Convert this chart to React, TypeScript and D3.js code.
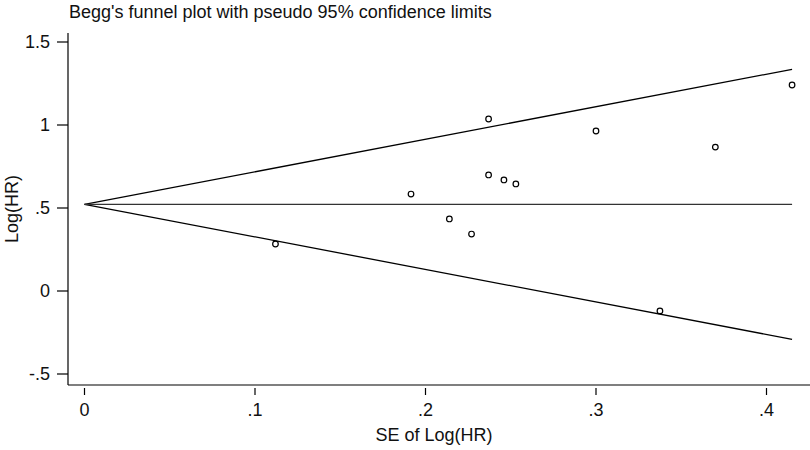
import React from "react";
import * as d3 from "d3";

// study-level SE and log hazard ratio
const seValues = [0.112, 0.1915, 0.214, 0.227, 0.237, 0.237, 0.246, 0.253, 0.3, 0.3375, 0.37, 0.415];
const logHR = [0.283, 0.584, 0.434, 0.343, 1.036, 0.699, 0.669, 0.645, 0.964, -0.12, 0.867, 1.241];
const pooled = 0.522;
const xTicks = [0, 0.1, 0.2, 0.3, 0.4];
const yTicks = [-0.5, 0, 0.5, 1, 1.5];

const width = 810;
const height = 450;
const font = "'Liberation Sans', Arial, Helvetica, sans-serif";

const fmt = (v: number) => (v === 0 ? "0" : String(v).replace(/^(-?)0\./, "$1."));

export default function App() {
  const x = d3.scaleLinear().domain([0, 0.4]).range([84.5, 766.5]);
  const y = d3.scaleLinear().domain([-0.5, 1.5]).range([374, 42]);

  const axisX = 68;
  const axisY = 385;
  const plotTop = 33;
  const plotRight = 800;
  const maxSe = d3.max(seValues) as number;

  const funnel = (sign: number) =>
    d3.line<number>()
      .x((s) => x(s))
      .y((s) => y(pooled + sign * 1.96 * s))([0, maxSe]) as string;

  return (
    <svg
      width={width}
      height={height}
      style={{ position: "absolute", left: 0, top: 0, background: "#fff" }}
      fontFamily={font}
    >
      <rect width={width} height={height} fill="#fff" />
      <text x={69} y={17.5} fontSize={18} fill="#111">
        Begg's funnel plot with pseudo 95% confidence limits
      </text>

      {/* y axis */}
      <line x1={axisX} x2={axisX} y1={plotTop} y2={axisY} stroke="#000" strokeWidth={1.2} />
      {yTicks.map((t) => (
        <g key={t}>
          <line x1={57} x2={axisX} y1={y(t)} y2={y(t)} stroke="#000" strokeWidth={1.2} />
          <text x={50} y={y(t)} dy="0.36em" textAnchor="end" fontSize={18} fill="#111">
            {fmt(t)}
          </text>
        </g>
      ))}
      <text
        transform={`translate(18,${(plotTop + axisY) / 2}) rotate(-90)`}
        textAnchor="middle"
        fontSize={18}
        fill="#111"
      >
        Log(HR)
      </text>

      {/* x axis */}
      <line x1={axisX} x2={width} y1={axisY} y2={axisY} stroke="#000" strokeWidth={1.2} />
      {xTicks.map((t) => (
        <g key={t}>
          <line x1={x(t)} x2={x(t)} y1={388} y2={395} stroke="#000" strokeWidth={1.2} />
          <text x={x(t)} y={416} textAnchor="middle" fontSize={18} fill="#111">
            {fmt(t)}
          </text>
        </g>
      ))}
      <text x={(axisX + plotRight) / 2} y={441} textAnchor="middle" fontSize={18} fill="#111">
        SE of Log(HR)
      </text>

      {/* funnel */}
      <path d={funnel(1)} stroke="#000" strokeWidth={1.3} fill="none" />
      <path d={funnel(-1)} stroke="#000" strokeWidth={1.3} fill="none" />
      <line
        x1={x(0)}
        x2={x(maxSe)}
        y1={y(pooled)}
        y2={y(pooled)}
        stroke="#333"
        strokeWidth={1.3}
      />

      {seValues.map((s, i) => (
        <circle
          key={i}
          cx={x(s)}
          cy={y(logHR[i])}
          r={2.8}
          fill="none"
          stroke="#000"
          strokeWidth={1.2}
        />
      ))}
    </svg>
  );
}
